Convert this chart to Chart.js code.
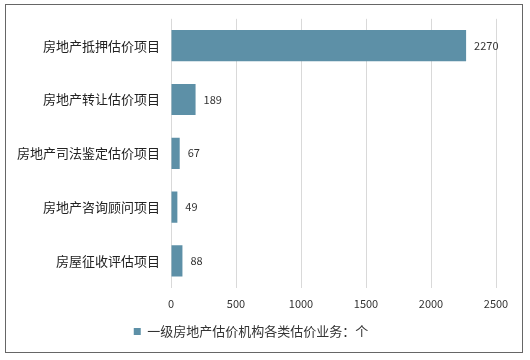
<!DOCTYPE html>
<html><head><meta charset="utf-8">
<script src="https://cdn.jsdelivr.net/npm/chart.js@4.4.1/dist/chart.umd.min.js"></script>
<style>
html,body{margin:0;padding:0;background:#fff;}
#wrap{position:relative;width:530px;height:360px;}
#frame{position:absolute;left:5px;top:4px;width:516px;height:347px;border:1.5px solid #666;pointer-events:none;}
canvas{position:absolute;left:0;top:0;}
</style></head>
<body>
<div id="wrap"><canvas id="c" width="530" height="360"></canvas><div id="frame"></div></div>
<script>
const categories = ["房地产抵押估价项目","房地产转让估价项目","房地产司法鉴定估价项目","房地产咨询顾问项目","房屋征收评估项目"];
const values = [2270, 189, 67, 49, 88];
const seriesName = "一级房地产估价机构各类估价业务：个";
const xTicks = [0, 500, 1000, 1500, 2000, 2500];

const FONT = '"Noto Sans CJK SC", "Noto Sans", sans-serif';

const valueLabels = {
  id: 'valueLabels',
  afterDatasetsDraw(chart) {
    const ctx = chart.ctx;
    const meta = chart.getDatasetMeta(0);
    ctx.save();
    ctx.font = '11px ' + FONT;
    ctx.fillStyle = '#333';
    ctx.textAlign = 'left';
    ctx.textBaseline = 'middle';
    meta.data.forEach((bar, i) => {
      ctx.fillText(String(chart.data.datasets[0].data[i]), bar.x + 8, bar.y);
    });
    ctx.restore();
  }
};

new Chart(document.getElementById('c'), {
  type: 'bar',
  data: {
    labels: categories,
    datasets: [{
      label: seriesName,
      data: values,
      backgroundColor: '#5d90a7',
      borderWidth: 0,
      categoryPercentage: 1.0,
      barPercentage: 0.58
    }]
  },
  options: {
    indexAxis: 'y',
    responsive: false,
    animation: false,
    layout: { padding: { left: 6, right: 34, top: 18, bottom: 12 } },
    plugins: {
      legend: {
        position: 'bottom',
        labels: {
          boxWidth: 7, boxHeight: 7, padding: 6,
          color: '#333',
          font: { size: 13, family: FONT }
        }
      },
      tooltip: { enabled: false }
    },
    scales: {
      x: {
        min: 0, max: 2500,
        afterBuildTicks(axis) { axis.ticks = xTicks.map(v => ({ value: v })); },
        grid: { color: '#d9d9d9', drawTicks: false, lineWidth: 1 },
        border: { display: false },
        ticks: { color: '#333', padding: 9, font: { size: 11, family: FONT },
                 callback: (v) => String(v) }
      },
      y: {
        grid: { display: false, drawTicks: false },
        border: { display: false },
        ticks: { color: '#222', padding: 11, font: { size: 13, family: FONT } }
      }
    }
  },
  plugins: [valueLabels]
});
</script>
</body></html>
